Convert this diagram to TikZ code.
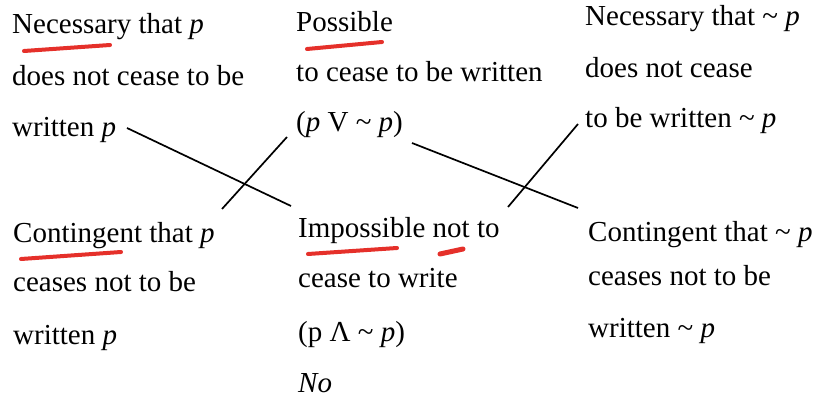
\documentclass[tikz,border=0pt]{standalone}
\usepackage{fontspec}
\setmainfont{Liberation Serif}
\usetikzlibrary{positioning}
\newcommand{\tld}{\textasciitilde}
\definecolor{pen}{HTML}{E5302A}

\begin{document}
\begin{tikzpicture}[x=1pt, y=-1pt,
  txt/.style={anchor=base west, inner sep=0pt, font=\fontsize{29}{34}\selectfont},
  link/.style={draw=black, line width=1.7pt},
  penmark/.style={draw=pen, line width=4pt, line cap=round}]
  \useasboundingbox (0,0) rectangle (823,403);
  % top row
  \node[txt] (nec1) at (12,34) {Necessary that \textit{p}};
  \node[txt] (nec2) at (12,86) {does not cease to be};
  \node[txt] (nec3) at (12,137) {written \textit{p}};
  \node[txt] (pos1) at (296,32) {Possible};
  \node[txt] (pos2) at (296,82) {to cease to be written};
  \node[txt] (pos3) at (296,132) {(\textit{p} V \tld\ \textit{p})};
  \node[txt] (nnp1) at (585,26) {Necessary that \tld\ \textit{p}};
  \node[txt] (nnp2) at (585,78) {does not cease};
  \node[txt] (nnp3) at (585,128) {to be written \tld\ \textit{p}};
  % bottom row
  \node[txt] (con1) at (13,243) {Contingent that \textit{p}};
  \node[txt] (con2) at (13,292) {ceases not to be};
  \node[txt] (con3) at (13,345) {written \textit{p}};
  \node[txt] (imp1) at (298,238) {Impossible not to};
  \node[txt] (imp2) at (298,288) {cease to write};
  \node[txt] (imp3) at (298,342) {(p \symbol{"039B} \tld\ \textit{p})};
  \node[txt] (imp4) at (298,393) {\textit{No}};
  \node[txt] (cnp1) at (588,242) {Contingent that \tld\ \textit{p}};
  \node[txt] (cnp2) at (588,286) {ceases not to be};
  \node[txt] (cnp3) at (588,338) {written \tld\ \textit{p}};
  % line ends
  \coordinate (a1) at (127,128); \coordinate (b1) at (291,206);
  \coordinate (a2) at (222,209); \coordinate (b2) at (287,137);
  \coordinate (a3) at (412,143); \coordinate (b3) at (578,208);
  \coordinate (a4) at (508,207); \coordinate (b4) at (578,124);
  \draw[link] (a1) -- (b1);
  \draw[link] (a2) -- (b2);
  \draw[link] (a3) -- (b3);
  \draw[link] (a4) -- (b4);
  % red underlines
  \draw[penmark] (24,51) -- (110,45);
  \draw[penmark] (307,49) -- (382,42);
  \draw[penmark] (21,259) -- (121,252);
  \draw[penmark] (308,254) -- (397,248);
  \draw[penmark, line width=5pt] (440,254) -- (463,249);
\end{tikzpicture}
\end{document}
